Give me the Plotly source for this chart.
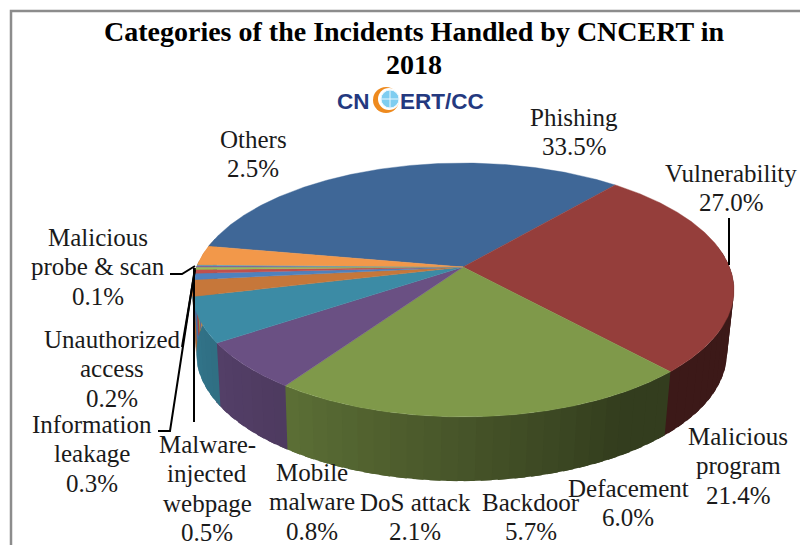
import numpy as np
import plotly.graph_objects as go

# ---- data (clockwise order, as drawn) ----
categories = ["Phishing", "Vulnerability", "Malicious|program", "Defacement", "Backdoor",
              "DoS attack", "Mobile|malware", "Malware-|injected|webpage",
              "Information|leakage", "Unauthorized|access", "Malicious|probe &amp; scan", "Others"]
shares = [33.5, 27.0, 21.4, 6.0, 5.7, 2.1, 0.8, 0.5, 0.3, 0.2, 0.1, 2.5]
colors = ["#3f6797", "#953e3b", "#7f994a", "#6a5083", "#3c8ba5", "#c6773a",
          "#4f81bd", "#c0504d", "#9bbb59", "#8064a2", "#4bacc6", "#f2984a"]

# label anchor: centre x and the y of the first line, in page pixels
label_x = [574, 731, 738, 628, 531, 415, 312, 207, 92, 112, 98, 253]
label_y = [117, 173, 436, 488, 502, 502, 472, 444, 424, 339, 237, 139]

# ---- layout of the drawing ----
FONT = "Liberation Serif"
LABEL_SIZE = 25
LINE_STEP = 29.5
START = 40.5 - 33.5 / sum(shares) * 360
K = 0.181
top = dict(ax=463.0, ay=267.0, a=266.5, b=122.8)
bot = dict(ax=461.5, ay=330.0, a=261.0, b=123.8)


def project(theta_deg, plane):
    t = np.radians(theta_deg)
    u, v = np.sin(t), np.cos(t)
    w = 1 + K * v
    return plane["ax"] + plane["a"] * u / w, plane["ay"] - plane["b"] * v / w


def rgb(hex_color, f):
    r, g, b = (int(hex_color[i:i + 2], 16) for i in (1, 3, 5))
    return f"rgb({r * f:.0f},{g * f:.0f},{b * f:.0f})"


fig = go.Figure()
edges = START + np.cumsum([0] + shares) / sum(shares) * 360

# side wall, in narrow overlapping bands so that the shading changes gradually
for i, c in enumerate(colors):
    lo, hi = edges[i] % 360, edges[i + 1] % 360
    if hi < lo:
        hi += 360
    lo2, hi2 = max(lo, 80), min(hi, 282)
    if hi2 <= lo2:
        continue
    n = max(1, int((hi2 - lo2) / 3))
    steps = np.linspace(lo2, hi2, n + 1)
    for a0, a1 in zip(steps[:-1], steps[1:]):
        arc = np.linspace(a0, a1 + 2, 5)
        xt, yt = project(arc, top)
        xb, yb = project(arc[::-1], bot)
        f = float(np.interp((a0 + a1) / 2, [90, 150, 215, 257, 285], [0.41, 0.40, 0.73, 0.85, 0.85]))
        fig.add_trace(go.Scatter(x=np.r_[xt, xb], y=np.r_[yt, yb], fill="toself", fillcolor=rgb(c, f),
                                 mode="lines", line=dict(width=0), hoverinfo="skip",
                                 showlegend=False))

# top faces
for i, c in enumerate(colors):
    n = max(3, int((edges[i + 1] - edges[i]) * 2))
    xa, ya = project(np.linspace(edges[i], edges[i + 1], n), top)
    fig.add_trace(go.Scatter(x=np.r_[top["ax"], xa, top["ax"]], y=np.r_[top["ay"], ya, top["ay"]],
                             fill="toself", fillcolor=c, mode="lines", line=dict(color=c, width=0.4),
                             name=categories[i].replace("|", " "), text=f"{shares[i]}%",
                             hoverinfo="name+text", showlegend=False))

# leader lines
leaders = [
    ([729, 729], [218, 265]),
    ([170, 182, 195], [274, 274, 266]),
    ([182, 195], [347, 270]),
    ([158, 170, 195], [431, 431, 268]),
    ([194, 194], [422, 268]),
]
for lx, ly in leaders:
    fig.add_trace(go.Scatter(x=lx, y=ly, mode="lines", line=dict(color="#000000", width=2),
                             hoverinfo="skip", showlegend=False))

# logo globe
fig.add_trace(go.Scatter(x=[386], y=[100], mode="markers", marker=dict(size=26, color="#ee8a1e"),
                         hoverinfo="skip", showlegend=False))
fig.add_trace(go.Scatter(x=[389], y=[99], mode="markers", marker=dict(size=22, color="#ffffff"),
                         hoverinfo="skip", showlegend=False))
fig.add_trace(go.Scatter(x=[390], y=[99], mode="markers",
                         marker=dict(size=18, color="#7fcdf0", symbol="circle-cross",
                                     line=dict(color="#e8f7ff", width=1)),
                         hoverinfo="skip", showlegend=False))

annotations = []
for name, val, x, y in zip(categories, shares, label_x, label_y):
    for j, line in enumerate(name.split("|") + [f"{val:.1f}%"]):
        annotations.append(dict(x=x, y=y + j * LINE_STEP, xref="x", yref="y", text=line, showarrow=False,
                                xanchor="center", yanchor="middle", align="center",
                                font=dict(family=FONT, size=LABEL_SIZE, color="#1a1a1a")))
logo_font = dict(family="Liberation Sans", size=22.5, color="#24397f")
annotations.append(dict(x=337, y=101, xref="x", yref="y", text="<b>CN</b>", showarrow=False,
                        xanchor="left", yanchor="middle", font=logo_font, xshift=-2))
annotations.append(dict(x=400, y=101, xref="x", yref="y", text="<b>ERT/CC</b>", showarrow=False,
                        xanchor="left", yanchor="middle", font=logo_font, xshift=-2))
annotations.append(dict(x=414, y=64, xref="x", yref="y", text="<b>2018</b>", showarrow=False,
                        xanchor="center", yanchor="middle",
                        font=dict(family=FONT, size=28, color="#000000")))

fig.update_layout(
    width=800, height=545, margin=dict(l=0, r=0, t=0, b=0),
    paper_bgcolor="#ffffff", plot_bgcolor="#ffffff", showlegend=False,
    xaxis=dict(range=[0, 800], visible=False, fixedrange=True),
    yaxis=dict(range=[545, 0], visible=False, fixedrange=True),
    title=dict(text="<b>Categories of the Incidents Handled by CNCERT in</b>",
               x=414 / 800, xanchor="center", y=1 - 31 / 545, yanchor="middle",
               font=dict(family=FONT, size=28, color="#000000")),
    annotations=annotations,
    shapes=[dict(type="rect", xref="x", yref="y", x0=11, y0=11, x1=830, y1=580,
                 line=dict(color="#8c8c8c", width=2.5), layer="below")],
)
fig.write_html("out.html", config={"displayModeBar": False},
               post_script="document.body.style.margin='0';document.documentElement.style.overflow='hidden';")
